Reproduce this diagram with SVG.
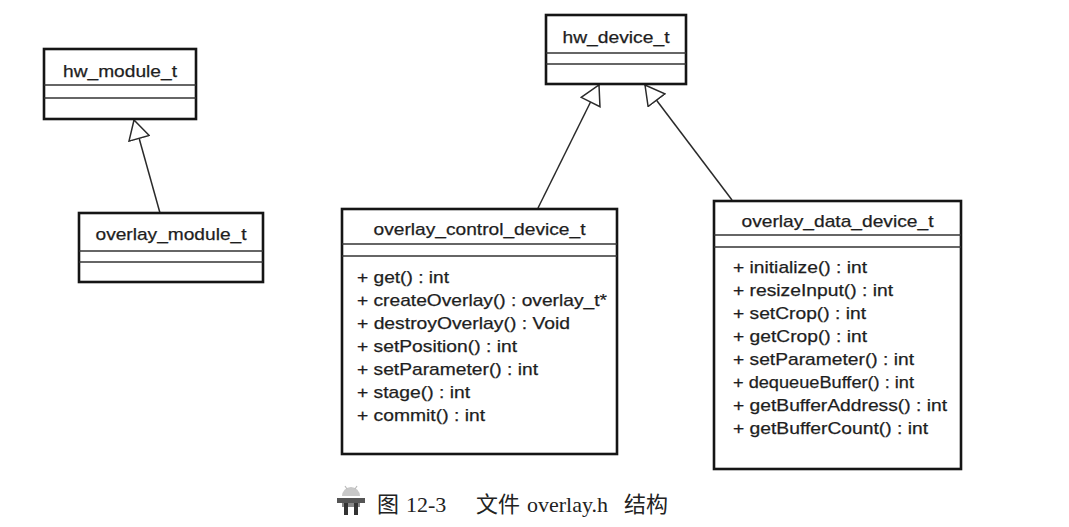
<svg xmlns="http://www.w3.org/2000/svg" width="1069" height="527" viewBox="0 0 1069 527">
<style>
.box{fill:#fff;stroke:#151515;stroke-width:2.6}
.div{stroke:#333;stroke-width:1.4;fill:none}
.t{font-family:"Liberation Sans",Arial,sans-serif;font-size:17px;fill:#1e1e1e;stroke:#1e1e1e;stroke-width:0.25}
.c{text-anchor:middle}
.conn{stroke:#2a2a2a;stroke-width:1.5;fill:none}
.cap{font-family:"Liberation Serif","Noto Sans CJK SC",serif;font-size:22px;fill:#222}
</style>
<defs>
<marker id="inh" markerUnits="userSpaceOnUse" viewBox="0 0 21 23" refX="20" refY="11.5" markerWidth="21" markerHeight="23" orient="auto">
<path d="M1,1 L20,11.5 L1,22 Z" fill="#fff" stroke="#2a2a2a" stroke-width="1.5"/>
</marker>
</defs>
<rect width="1069" height="527" fill="#fff"/>

<g id="connectors">
<path class="conn" d="M160,213 L134,120" marker-end="url(#inh)"/>
<path class="conn" d="M538,208 L599,85" marker-end="url(#inh)"/>
<path class="conn" d="M732,200 L645,85" marker-end="url(#inh)"/>
</g>

<g id="hw_module_t">
<rect class="box" x="44" y="49" width="152" height="70"/>
<line class="div" x1="44" y1="85" x2="196" y2="85"/>
<line class="div" x1="44" y1="98" x2="196" y2="98"/>
<text class="t c" x="120" y="77" textLength="114" lengthAdjust="spacingAndGlyphs">hw_module_t</text>
</g>

<g id="overlay_module_t">
<rect class="box" x="79" y="213" width="184" height="69"/>
<line class="div" x1="79" y1="251" x2="263" y2="251"/>
<line class="div" x1="79" y1="262" x2="263" y2="262"/>
<text class="t c" x="171" y="240" textLength="151" lengthAdjust="spacingAndGlyphs">overlay_module_t</text>
</g>

<g id="hw_device_t">
<rect class="box" x="546" y="15" width="140" height="69"/>
<line class="div" x1="546" y1="53" x2="686" y2="53"/>
<line class="div" x1="546" y1="64" x2="686" y2="64"/>
<text class="t c" x="616" y="43" textLength="107" lengthAdjust="spacingAndGlyphs">hw_device_t</text>
</g>

<g id="overlay_control_device_t">
<rect class="box" x="342" y="209" width="275" height="245"/>
<line class="div" x1="342" y1="244" x2="617" y2="244"/>
<line class="div" x1="342" y1="256" x2="617" y2="256"/>
<text class="t c" x="479.5" y="235" textLength="212" lengthAdjust="spacingAndGlyphs">overlay_control_device_t</text>
<text class="t" x="357" y="283" textLength="92" lengthAdjust="spacingAndGlyphs">+ get() : int</text>
<text class="t" x="357" y="306" textLength="250" lengthAdjust="spacingAndGlyphs">+ createOverlay() : overlay_t*</text>
<text class="t" x="357" y="329" textLength="213" lengthAdjust="spacingAndGlyphs">+ destroyOverlay() : Void</text>
<text class="t" x="357" y="352" textLength="160" lengthAdjust="spacingAndGlyphs">+ setPosition() : int</text>
<text class="t" x="357" y="375" textLength="181" lengthAdjust="spacingAndGlyphs">+ setParameter() : int</text>
<text class="t" x="357" y="398" textLength="113" lengthAdjust="spacingAndGlyphs">+ stage() : int</text>
<text class="t" x="357" y="421" textLength="128" lengthAdjust="spacingAndGlyphs">+ commit() : int</text>
</g>

<g id="overlay_data_device_t">
<rect class="box" x="714" y="201" width="247" height="268"/>
<line class="div" x1="714" y1="235" x2="961" y2="235"/>
<line class="div" x1="714" y1="247" x2="961" y2="247"/>
<text class="t c" x="837.5" y="227" textLength="192" lengthAdjust="spacingAndGlyphs">overlay_data_device_t</text>
<text class="t" x="733" y="273" textLength="134" lengthAdjust="spacingAndGlyphs">+ initialize() : int</text>
<text class="t" x="733" y="296" textLength="160" lengthAdjust="spacingAndGlyphs">+ resizeInput() : int</text>
<text class="t" x="733" y="319" textLength="133" lengthAdjust="spacingAndGlyphs">+ setCrop() : int</text>
<text class="t" x="733" y="342" textLength="134" lengthAdjust="spacingAndGlyphs">+ getCrop() : int</text>
<text class="t" x="733" y="365" textLength="181" lengthAdjust="spacingAndGlyphs">+ setParameter() : int</text>
<text class="t" x="733" y="388" textLength="181" lengthAdjust="spacingAndGlyphs">+ dequeueBuffer() : int</text>
<text class="t" x="733" y="411" textLength="214" lengthAdjust="spacingAndGlyphs">+ getBufferAddress() : int</text>
<text class="t" x="733" y="434" textLength="195" lengthAdjust="spacingAndGlyphs">+ getBufferCount() : int</text>
</g>

<g id="caption">
<g id="icon">
<path d="M342,496 A9,9 0 0 1 360,496 Z" fill="#c8c8c8"/>
<line x1="345" y1="486" x2="347" y2="489" stroke="#bbb" stroke-width="1.2"/>
<line x1="357" y1="486" x2="355" y2="489" stroke="#bbb" stroke-width="1.2"/>
<rect x="337" y="498" width="28" height="5" fill="#555"/>
<rect x="342" y="503" width="18" height="4" fill="#888"/>
<rect x="344" y="503" width="4" height="12" fill="#333"/>
<rect x="354" y="503" width="4" height="12" fill="#333"/>
</g>
<text class="cap" x="377" y="512">图</text>
<text class="cap" x="406" y="512">12-3</text>
<text class="cap" x="476" y="512">文件</text>
<text class="cap" x="527" y="512">overlay.h</text>
<text class="cap" x="624" y="512">结构</text>
</g>
</svg>
